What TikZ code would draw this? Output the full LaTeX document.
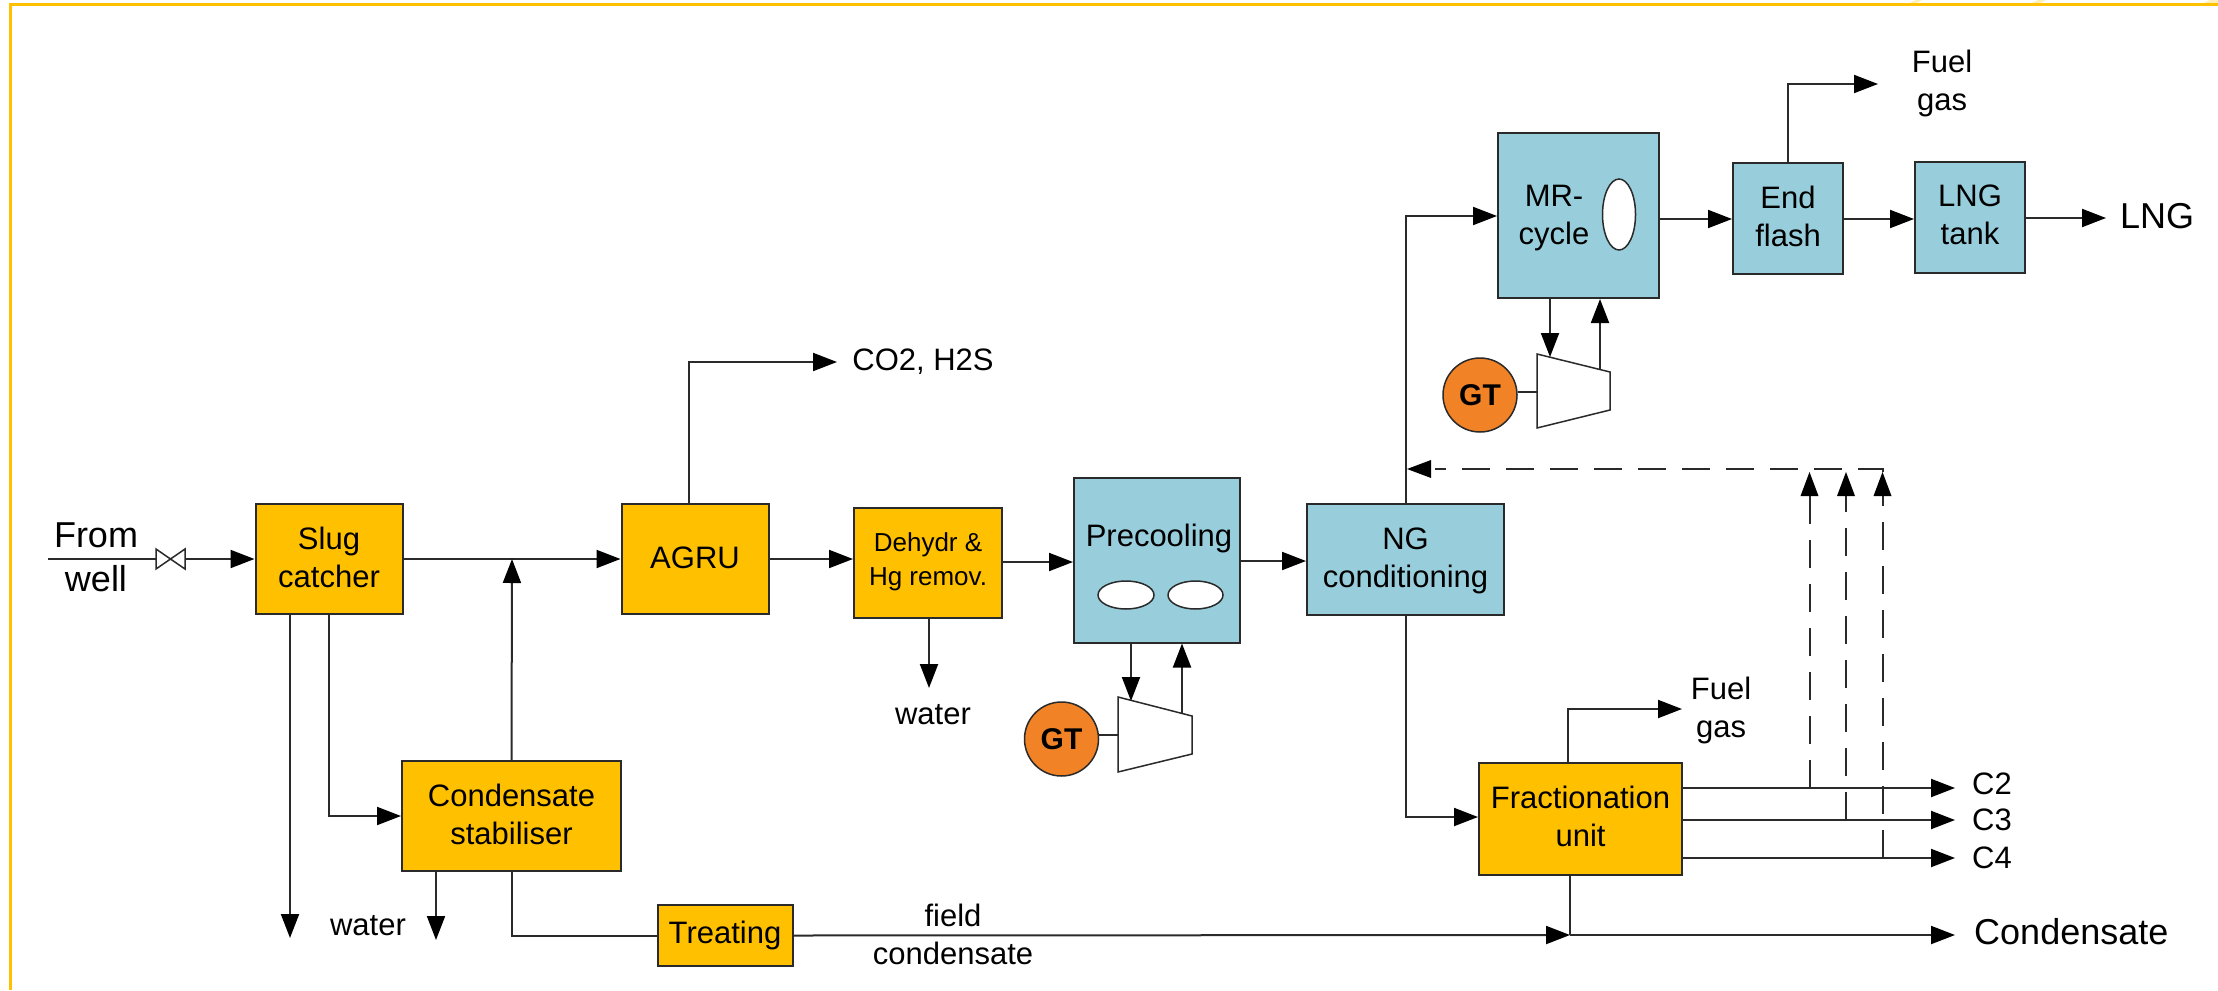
\documentclass[tikz,border=0pt]{standalone}
\usepackage{fontspec}
\setmainfont{Liberation Sans}
\usetikzlibrary{arrows.meta,calc,shapes.geometric}
\definecolor{boxorange}{HTML}{FFC000}
\definecolor{boxblue}{HTML}{98CEDC}
\definecolor{gtorange}{HTML}{F28226}
\definecolor{linegray}{HTML}{2A2A2A}
\definecolor{stripe}{HTML}{FFEFB5}
\tikzset{
  lab/.style={inner sep=0pt,align=center,font=\fontsize{31}{38}\selectfont},
  unit/.style={draw=linegray,line width=2pt,inner sep=0pt},
  ora/.style={unit,fill=boxorange},
  blu/.style={unit,fill=boxblue},
  biglab/.style={inner sep=0pt,align=center,font=\fontsize{36}{44}\selectfont},
  gtnode/.style={circle,draw=linegray,line width=1.5pt,fill=gtorange,minimum size=74pt,inner sep=0pt,font=\fontsize{30}{36}\selectfont\bfseries},
  hole/.style={ellipse,draw=linegray,line width=1.5pt,fill=white,inner sep=0pt},
  flow/.style={draw=linegray,line width=2pt,-{Triangle[length=24pt,width=18pt,color=black,fill=black]}},
  plain/.style={draw=linegray,line width=2pt},
  dashflow/.style={draw=linegray,line width=2pt,dash pattern=on 28pt off 16pt},
  comp/.style={draw=linegray,line width=1.5pt,fill=white},
}
\begin{document}
\begin{tikzpicture}[x=1pt,y=-1pt]
\useasboundingbox (0,0) rectangle (2218,990);
% frame
\fill[stripe] (1908,4) -- (1916,0) -- (1922,0) -- (1914,4) -- cycle;
\fill[stripe] (2030,4) -- (2038,0) -- (2046,0) -- (2038,4) -- cycle;
\fill[stripe] (2202,4) -- (2210,0) -- (2218,0) -- (2218,4) -- cycle;
\draw[boxorange,line width=3pt] (10,990) -- (10,5) -- (2218,5);

% process units
\node[ora,minimum width=147pt,minimum height=110pt,label={[lab,yshift=1.5pt]center:{Slug\\catcher}}] (slug) at (329,559) {};
\node[ora,minimum width=147pt,minimum height=110pt,label={[lab,yshift=1pt]center:{AGRU}}] (agru) at (695,559) {};
\node[ora,minimum width=148pt,minimum height=110pt,label={[lab,font=\fontsize{26}{34}\selectfont,yshift=1pt]center:{Dehydr \&\\Hg remov.}}] (dehy) at (928,562.5) {};
\node[blu,minimum width=166pt,minimum height=165pt] (pre) at (1157,560) {};
\node[blu,minimum width=197pt,minimum height=111pt,label={[lab,yshift=-1.5pt]center:{NG\\conditioning}}] (ngc) at (1405.5,559.5) {};
\node[blu,minimum width=161pt,minimum height=165pt] (mr) at (1578.5,215.5) {};
\node[blu,minimum width=110pt,minimum height=111pt,label={[lab,yshift=2.5pt]center:{End\\flash}}] (endf) at (1788,218.5) {};
\node[blu,minimum width=110pt,minimum height=111pt,label={[lab,yshift=3pt]center:{LNG\\tank}}] (tank) at (1970,217.5) {};
\node[ora,minimum width=203pt,minimum height=112pt,label={[lab,yshift=3pt]center:{Fractionation\\unit}}] (frac) at (1580.5,819) {};
\node[ora,minimum width=219pt,minimum height=110pt,label={[lab,yshift=1.5pt]center:{Condensate\\stabiliser}}] (stab) at (511.5,816) {};
\node[ora,minimum width=135pt,minimum height=61pt,label={[lab]center:{Treating}}] (treat) at (725,935.5) {};

% inner text and vessels
\node[lab] (pretxt) at (1159,538) {Precooling};
\node[hole,minimum width=56pt,minimum height=28pt] (v1) at (1126,595) {};
\node[hole,minimum width=55pt,minimum height=28pt] (v2) at (1195.5,595) {};
\node[lab] (mrtxt) at (1554,218.5) {MR-\\cycle};
\node[hole,minimum width=33pt,minimum height=71pt] (v3) at (1619,214.5) {};

% gas turbines and compressors
\node[gtnode] (gt1) at (1061.5,739) {GT};
\node[gtnode] (gt2) at (1480,395) {GT};
\path[comp,draw] (1118,697) -- (1192,716) -- (1192,754) -- (1118,772) -- cycle;
\coordinate (c1l) at (1118,735);
\coordinate (c1in) at (1131,701);
\coordinate (c1out) at (1182,714);
\path[comp,draw] (1537,354) -- (1610,372) -- (1610,410) -- (1537,428) -- cycle;
\coordinate (c2l) at (1537,392);
\coordinate (c2in) at (1550,357);
\coordinate (c2out) at (1600,370);

% text labels
\node[biglab] (from) at (96,557) {From\\well};
\node[lab] (co2) at (923,362) {CO2, H2S};
\node[lab] (wat1) at (933,715) {water};
\node[lab] (wat2) at (368,926) {water};
\node[lab] (fuel1) at (1942,83) {Fuel\\gas};
\node[lab] (fuel2) at (1721,710) {Fuel\\gas};
\node[lab] (field) at (953,934) {field\\condensate};
\node[lab] (c2) at (1992,784) {C2};
\node[lab] (c3) at (1992,820) {C3};
\node[lab] (c4) at (1992,858) {C4};
\node[biglab,anchor=west] (cond) at (1974,932) {Condensate};
\node[biglab,anchor=west] (lng) at (2120,216) {LNG};

% free ends
\coordinate (wellin) at (48,559);
\coordinate (v1a) at (156,559);
\coordinate (v1b) at (185,559);
\coordinate (mix) at (512,559);
\coordinate (co2end) at (837,362);
\coordinate (wat1end) at (929,688);
\coordinate (slugw) at (290,938);
\coordinate (stabw) at (436,940);
\coordinate (fuel1end) at (1878,84);
\coordinate (fuel2end) at (1682,709);
\coordinate (c2end) at (1955,788);
\coordinate (c3end) at (1955,820);
\coordinate (c4end) at (1955,858);
\coordinate (condend) at (1955,935);
\coordinate (lngend) at (2106,218);
\coordinate (recyc) at (1407,469);
\coordinate (d1) at (1809.5,788);
\coordinate (d2) at (1846,820);
\coordinate (d3) at (1882.5,858);
\coordinate (condmix) at (1570,935);

% main train
\draw[plain] (wellin) -- (v1a);
\draw[draw=linegray,line width=1.5pt,fill=white] (156,549) -- (185,569) -- (185,549) -- (156,569) -- cycle;
\draw[flow] (v1b) -- (slug.west);
\draw[flow] (slug.east) -- (agru.west);
\draw[flow] (agru.east) -- (agru.east -| dehy.west);
\draw[flow] (dehy.east |- 0,562) -- (pre.west |- 0,562);
\draw[flow] (pre.east |- 0,561) -- (ngc.west |- 0,561);
\draw[flow] (ngc.north) |- (mr.west |- 0,216);
\draw[flow] (ngc.south) |- (frac.west |- 0,817);
\draw[flow] (mr.east |- 0,219) -- (endf.west |- 0,219);
\draw[flow] (endf.east |- 0,219) -- (tank.west |- 0,219);
\draw[flow] (tank.east |- lngend) -- (lngend);

% side streams
\draw[flow] (agru.north -| 689,0) |- (co2end);
\draw[flow] (dehy.south -| wat1end) -- (wat1end);
\draw[flow] (slug.south -| slugw) -- (slugw);
\draw[flow] (slug.south) |- (stab.west);
\draw[flow] (stab.north) -- (mix);
\draw[flow] (stab.south -| stabw) -- (stabw);
\draw[plain] (stab.south) |- (treat.west);
\draw[flow] (treat.east) -- (condmix);
\draw[flow] (condmix) -- (condend);
\draw[plain] (frac.south -| condmix) -- (condmix);
\draw[flow] (endf.north) |- (fuel1end);
\draw[flow] (frac.north -| 1568,0) |- (fuel2end);
\draw[flow] (frac.east |- c2end) -- (c2end);
\draw[flow] (frac.east |- c3end) -- (c3end);
\draw[flow] (frac.east |- c4end) -- (c4end);

% refrigeration loops
\draw[flow] (pre.south -| c1in) -- (c1in);
\draw[flow] (c1out) -- (pre.south -| c1out);
\draw[plain] (gt1.east |- c1l) -- (c1l);
\draw[flow] (mr.south -| c2in) -- (c2in);
\draw[flow] (c2out) -- (mr.south -| c2out);
\draw[plain] (gt2.east |- c2l) -- (c2l);

% dashed recycle
\draw[dashflow] (d1) -- (1809.5,496);
\draw[dashflow] (d2) -- (1846,496);
\draw[dashflow] (d3) -- (1882.5,496);
\fill[black] (1809.5,472) -- (1800.5,496) -- (1818.5,496) -- cycle;
\fill[black] (1846,472) -- (1837,496) -- (1855,496) -- cycle;
\fill[black] (1882.5,472) -- (1873.5,496) -- (1891.5,496) -- cycle;
\draw[dashflow] (1882.5,472) -- (1882.5,469) -- (1435,469);
\fill[black] (recyc) -- (1431,460) -- (1431,478) -- cycle;
\end{tikzpicture}
\end{document}
